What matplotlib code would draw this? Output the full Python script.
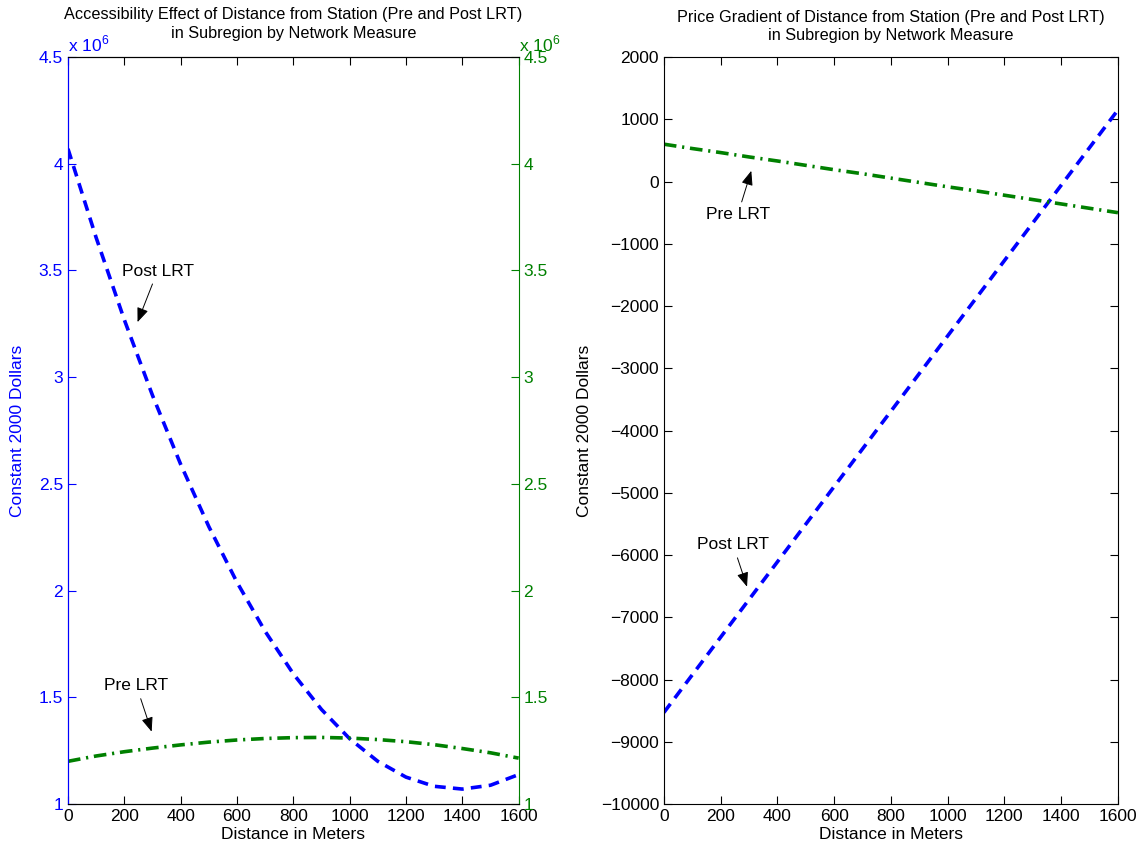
import numpy as np
import matplotlib
matplotlib.use('Agg')
import matplotlib.pyplot as plt

plt.rcParams['font.family'] = ['Liberation Sans', 'DejaVu Sans']
plt.rcParams['font.size'] = 12.5
plt.rcParams['mathtext.fontset'] = 'custom'
plt.rcParams['mathtext.rm'] = 'Liberation Sans'

# distance from station, meters
distance = [0, 100, 200, 300, 400, 500, 600, 700, 800, 900, 1000, 1100, 1200, 1300, 1400, 1500, 1600]

# accessibility effect, constant 2000 dollars
access_post = [4.07e6, 3.654e6, 3.269e6, 2.915e6, 2.592e6, 2.300e6, 2.039e6, 1.809e6, 1.610e6,
               1.443e6, 1.306e6, 1.200e6, 1.126e6, 1.083e6, 1.070e6, 1.088e6, 1.138e6]
access_pre = [1.200e6, 1.225e6, 1.245e6, 1.262e6, 1.277e6, 1.290e6, 1.300e6, 1.307e6, 1.311e6,
              1.312e6, 1.309e6, 1.302e6, 1.292e6, 1.278e6, 1.260e6, 1.240e6, 1.215e6]

# price gradient, constant 2000 dollars
grad_post = [-8530, -7925, -7320, -6715, -6110, -5505, -4900, -4295, -3690,
             -3085, -2480, -1875, -1270, -665, -60, 545, 1150]
grad_pre = [600, 530, 465, 395, 330, 260, 190, 125, 55,
            -15, -85, -150, -220, -290, -360, -430, -500]

left_yticks = [1, 1.5, 2, 2.5, 3, 3.5, 4, 4.5]
right_yticks = list(range(-10000, 2001, 1000))
xticks = list(range(0, 1601, 200))

BLUE = '#0000ff'
GREEN = '#008000'
dash_style = (0, (3, 2))
dashdot_style = (0, (3.5, 1.6, 0.6, 1.6))

fig = plt.figure(figsize=(11.48, 8.5), dpi=100)
ax1 = fig.add_axes([0.0592, 0.0541, 0.3926, 0.8788])
ax3 = fig.add_axes([0.5783, 0.0541, 0.3955, 0.8788])

arrow = dict(arrowstyle='-|>,head_length=0.7,head_width=0.28', color='black', lw=0.7,
             shrinkA=2, shrinkB=0)

# ---- left panel (two y axes) ----
ax2 = ax1.twinx()
ax1.plot(distance, np.array(access_post) / 1e6, color=BLUE, lw=2.6, linestyle=dash_style)
ax2.plot(distance, np.array(access_pre) / 1e6, color=GREEN, lw=2.6, linestyle=dashdot_style)

for ax in (ax1, ax2):
    ax.set_xlim(0, 1600)
    ax.set_ylim(1, 4.5)
    ax.set_yticks(left_yticks)
    ax.set_yticklabels(['%g' % v for v in left_yticks])
ax1.set_xticks(xticks)
ax1.tick_params(axis='x', direction='in', length=6, top=True, colors='black')
ax1.tick_params(axis='y', direction='in', length=6, colors=BLUE, labelcolor=BLUE)
ax2.tick_params(axis='y', direction='in', length=6, colors=GREEN, labelcolor=GREEN)
ax1.spines['left'].set_color(BLUE)
ax2.spines['left'].set_color(BLUE)
ax2.spines['right'].set_color(GREEN)
ax1.spines['right'].set_visible(False)

ax1.set_xlabel('Distance in Meters', labelpad=2)
ax1.set_ylabel('Constant 2000 Dollars', color=BLUE, labelpad=10)
ax1.set_title('Accessibility Effect of Distance from Station (Pre and Post LRT)\n'
              'in Subregion by Network Measure', fontsize=11.7, pad=14, linespacing=1.3)
ax1.text(0.0, 1.004, r'x 10$^{6}$', transform=ax1.transAxes, color=BLUE, ha='left', va='bottom')
ax2.text(1.0, 1.004, r'x 10$^{6}$', transform=ax2.transAxes, color=GREEN, ha='left', va='bottom')

ax2.annotate('Post LRT', xy=(247, 3.258), xytext=(318, 3.497), ha='center', va='center',
             arrowprops=arrow)
ax2.annotate('Pre LRT', xy=(297, 1.339), xytext=(243, 1.554), ha='center', va='center',
             arrowprops=arrow)

# ---- right panel ----
ax3.plot(distance, grad_post, color=BLUE, lw=2.6, linestyle=dash_style)
ax3.plot(distance, grad_pre, color=GREEN, lw=2.6, linestyle=dashdot_style)
ax3.set_xlim(0, 1600)
ax3.set_ylim(-10000, 2000)
ax3.set_xticks(xticks)
ax3.set_yticks(right_yticks)
ax3.tick_params(direction='in', length=6, top=True, right=True)
ax3.set_xlabel('Distance in Meters', labelpad=2)
ax3.set_ylabel('Constant 2000 Dollars', labelpad=6)
ax3.set_title('Price Gradient of Distance from Station (Pre and Post LRT)\n'
              'in Subregion by Network Measure', fontsize=11.7, pad=12, linespacing=1.3)

ax3.annotate('Pre LRT', xy=(308, 172), xytext=(260, -535), ha='center', va='center',
             arrowprops=arrow)
ax3.annotate('Post LRT', xy=(293, -6509), xytext=(244, -5838), ha='center', va='center',
             arrowprops=arrow)

fig.savefig('out.png', dpi=100)
